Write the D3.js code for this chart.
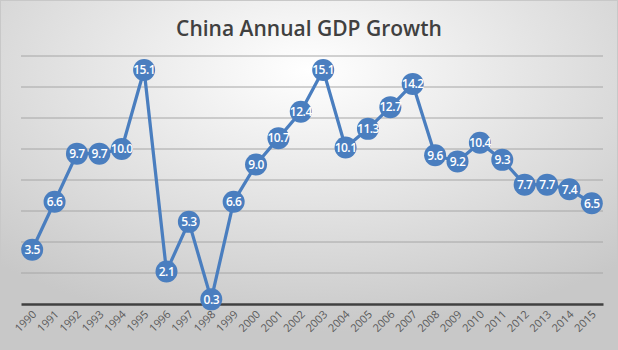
<!DOCTYPE html>
<html><head><meta charset="utf-8">
<script src="https://cdn.jsdelivr.net/npm/d3@7"></script>
<style>html,body{margin:0;padding:0;background:#fff;}svg{display:block;}</style>
</head><body>
<script>
const years = ["1990","1991","1992","1993","1994","1995","1996","1997","1998","1999","2000","2001","2002","2003","2004","2005","2006","2007","2008","2009","2010","2011","2012","2013","2014","2015"];
const growth = [3.5,6.6,9.7,9.7,10.0,15.1,2.1,5.3,0.3,6.6,9.0,10.7,12.4,15.1,10.1,11.3,12.7,14.2,9.6,9.2,10.4,9.3,7.7,7.7,7.4,6.5];
const yTicks = [0,2,4,6,8,10,12,14,16];
const title = "China Annual GDP Growth";

const W = 618, H = 350;
const svg = d3.select("body").append("svg").attr("width", W).attr("height", H);
const defs = svg.append("defs");
const rg = defs.append("radialGradient").attr("id","bg").attr("cx","50%").attr("cy","20%").attr("r","75%");
rg.append("stop").attr("offset","0%").attr("stop-color","#ffffff");
rg.append("stop").attr("offset","100%").attr("stop-color","#c8c8c8");
svg.append("rect").attr("x",0).attr("y",0).attr("width",W).attr("height",H).attr("fill","url(#bg)");
svg.append("rect").attr("x",0.5).attr("y",0.5).attr("width",W-1).attr("height",H-1).attr("fill","none").attr("stroke","#c8c8c8");

svg.append("text").attr("x",309).attr("y",36).attr("text-anchor","middle")
  .attr("font-family","'Open Sans', sans-serif").attr("font-size",21).attr("font-weight",600)
  .attr("fill","#404040").text(title);

const x = d3.scaleBand().domain(years).range([21,603]);
const y = d3.scaleLinear().domain([0,16]).range([304,56]);

svg.append("g").selectAll("line").data(yTicks.filter(d=>d>0)).join("line")
  .attr("x1",21).attr("x2",603).attr("y1",d=>y(d)).attr("y2",d=>y(d))
  .attr("stroke","#a6a6a6").attr("stroke-width",1);

const xa = svg.append("g").attr("transform","translate(0,"+y(0)+")")
  .call(d3.axisBottom(x).tickSize(0).tickPadding(0));
xa.select(".domain").attr("stroke","#404040").attr("stroke-width",2.5);
xa.selectAll("text").attr("font-family","'Open Sans', sans-serif").attr("font-size",11).attr("fill","#595959")
  .attr("text-anchor","end").attr("dy",0)
  .attr("transform","translate(5,11) rotate(-45)");

const line = d3.line().x((d,i)=>x(years[i])+x.bandwidth()/2).y(d=>y(d));
svg.append("path").datum(growth).attr("d",line).attr("fill","none")
  .attr("stroke","#4A7EBF").attr("stroke-width",3.25).attr("stroke-linejoin","round");

const pts = svg.append("g").selectAll("g").data(growth).join("g")
  .attr("transform",(d,i)=>"translate("+(x(years[i])+x.bandwidth()/2)+","+y(d)+")");
pts.append("circle").attr("r",11).attr("fill","#4A7EBF");
pts.append("text").attr("text-anchor","middle").attr("dy","0.36em")
  .attr("font-family","'Open Sans', sans-serif").attr("font-size",12).attr("font-weight",600)
  .attr("letter-spacing","-0.5").attr("fill","#ffffff").text(d=>d.toFixed(1));
</script>
</body></html>
